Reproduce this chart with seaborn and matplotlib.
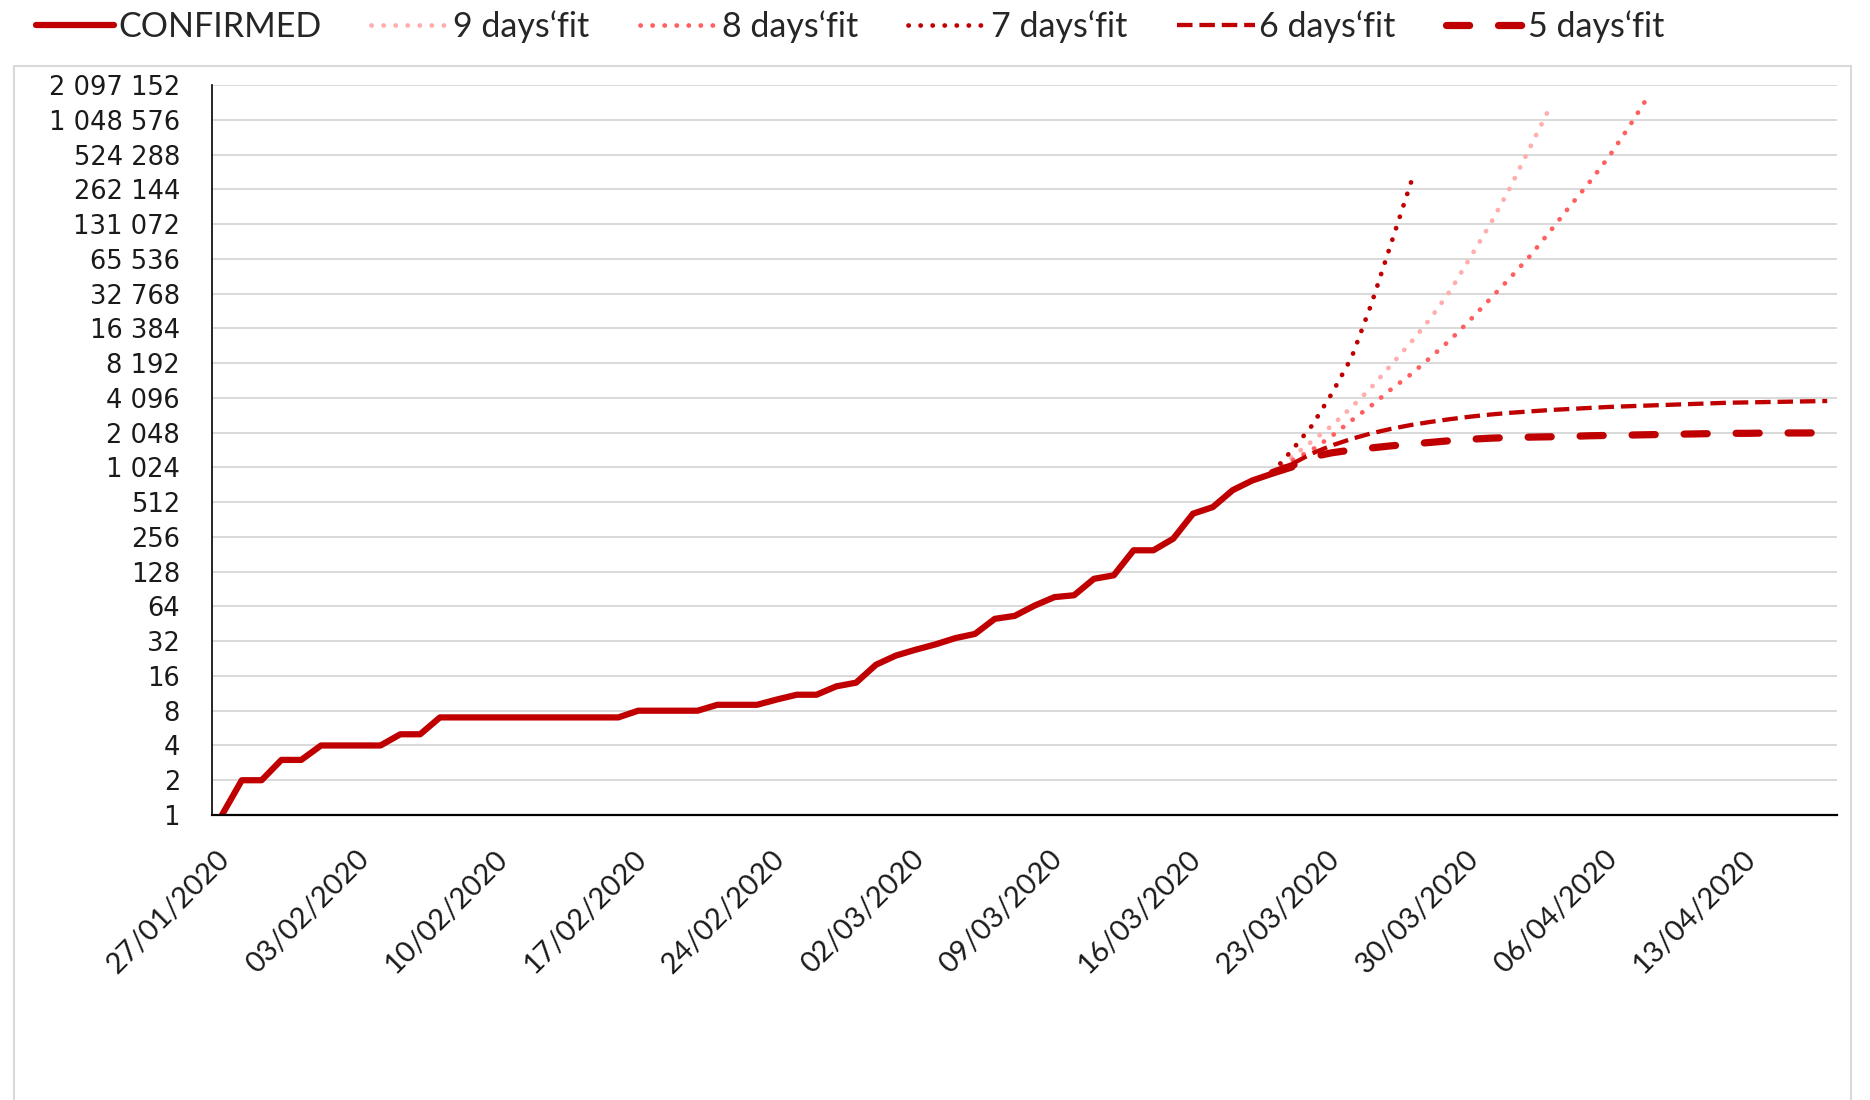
import pandas as pd
import matplotlib
matplotlib.use("Agg")
import matplotlib.pyplot as plt
import matplotlib.dates as mdates
import matplotlib.ticker as mticker
from matplotlib.patches import Rectangle
from matplotlib.transforms import ScaledTranslation
import seaborn as sns

sns.set_style("white")
plt.rcParams['font.family'] = ['DejaVu Sans']

# --- data ---
confirmed_start = "2020-01-27"
confirmed = [1, 2, 2, 3, 3, 4, 4, 4, 4, 5, 5, 7, 7, 7, 7, 7, 7, 7, 7, 7, 7,
             8, 8, 8, 8, 9, 9, 9, 10, 11, 11, 13, 14, 20, 24, 27, 30, 34, 37,
             50, 53, 65, 77, 80, 111, 119, 196, 196, 247, 407, 464, 650, 790,
             903, 1024]

fit_start = "2020-03-20"
fit_9 = [923, 1261, 1722, 2353, 3397, 5043, 7912, 12417, 20171, 35120, 67826,
         131072, 271000, 602000, 1335000]
fit_8 = [923, 1176, 1448, 1911, 2610, 3516, 4870, 6561, 9217, 13124, 19484,
         29536, 44766, 69237, 112500, 185364, 301000, 506000, 912000, 1705000]
fit_7 = [923, 1448, 2353, 4451, 9153, 26616, 89500, 301000]
fit_6 = [923, 1097, 1351, 1585, 1808, 2020, 2210, 2385, 2539, 2684, 2817, 2937,
         3040, 3126, 3214, 3281, 3350, 3420, 3468, 3516, 3566, 3616, 3666, 3717,
         3743, 3769, 3795, 3821, 3848]
fit_5 = [923, 1060, 1261, 1370, 1448, 1510, 1574, 1629, 1687, 1746, 1795, 1833,
         1859, 1872, 1885, 1898, 1924, 1938, 1951, 1965, 1978, 1992, 2006, 2020,
         2020, 2034, 2034, 2034, 2048]

week_labels = ["27/01/2020", "03/02/2020", "10/02/2020", "17/02/2020",
               "24/02/2020", "02/03/2020", "09/03/2020", "16/03/2020",
               "23/03/2020", "30/03/2020", "06/04/2020", "13/04/2020"]
axis_start, axis_end = "2020-01-27", "2020-04-17"
y_ticks = [2 ** k for k in range(22)]

narrow = ['Lato', 'DejaVu Sans']


def series_frame(start, values):
    return pd.DataFrame({"date": pd.date_range(start, periods=len(values), freq="D"),
                         "cases": values})


dots = (0, (0.05, 2.5))
series = [
    ("CONFIRMED", confirmed_start, confirmed,
     dict(color="#C00000", linewidth=4.5, linestyle="-", solid_joinstyle="round")),
    ("9 days\u2018fit", fit_start, fit_9,
     dict(color="#FFADAD", linewidth=3.4, linestyle=dots, dash_capstyle="round")),
    ("8 days\u2018fit", fit_start, fit_8,
     dict(color="#FF5F5F", linewidth=3.4, linestyle=dots, dash_capstyle="round")),
    ("7 days\u2018fit", fit_start, fit_7,
     dict(color="#C00000", linewidth=3.4, linestyle=dots, dash_capstyle="round")),
    ("6 days\u2018fit", fit_start, fit_6,
     dict(color="#C00000", linewidth=3.1, linestyle=(0, (3.6, 1.6)))),
    ("5 days\u2018fit", fit_start, fit_5,
     dict(color="#C00000", linewidth=5.2, linestyle=(0, (3.2, 4.0)), dash_capstyle="round")),
]

fig = plt.figure(figsize=(18.7, 11), dpi=100)
ax = fig.add_axes([0.1134, 0.2591, 0.8690, 0.6636])

for name, start, values, style in series:
    sns.lineplot(data=series_frame(start, values), x="date", y="cases",
                 estimator=None, label=name, ax=ax, **style)

if ax.get_legend() is not None:
    ax.get_legend().remove()

# log2 y axis with Excel-like labels
ax.set_yscale("log", base=2)
ax.set_ylim(1, 2 ** 21)
ax.set_yticks(y_ticks)
ax.yaxis.set_major_formatter(mticker.FuncFormatter(lambda v, p: f"{int(round(v)):,}".replace(",", " ")))
ax.yaxis.set_minor_locator(mticker.NullLocator())
ax.tick_params(axis="y", direction="out", length=7, width=1.2, color="black",
               pad=16, labelsize=18.5, labelcolor="#1a1a1a")

# date axis: tick marks on day boundaries, labels at the day itself
tick_dates = mdates.date2num(pd.to_datetime(week_labels, format="%d/%m/%Y"))
ax.set_xlim(mdates.date2num(pd.Timestamp(axis_start)) - 0.5,
            mdates.date2num(pd.Timestamp(axis_end)) + 0.5)
ax.set_xticks(tick_dates - 0.5)
ax.set_xticklabels([])
ax.set_xticks(tick_dates, minor=True)
ax.set_xticklabels(week_labels, minor=True, rotation=45, ha="right", va="center",
                   rotation_mode="anchor", family=narrow, fontsize=21, color="#1a1a1a")
ax.tick_params(axis="x", which="major", direction="out", length=7, width=1.2, color="black")
ax.tick_params(axis="x", which="minor", length=0, pad=29)
shift = ScaledTranslation(0.04, 0, fig.dpi_scale_trans)
for lab in ax.get_xticklabels(minor=True):
    lab.set_transform(lab.get_transform() + shift)

ax.set_xlabel("")
ax.set_ylabel("")
ax.yaxis.grid(True, color="#D9D9D9", linewidth=1.4)
ax.xaxis.grid(False)
ax.set_axisbelow(True)
sns.despine(ax=ax, top=True, right=True)
ax.spines["left"].set_color("black")
ax.spines["left"].set_linewidth(1.2)
ax.spines["bottom"].set_color("black")
ax.spines["bottom"].set_linewidth(1.6)

# chart area border like the spreadsheet frame
fig.patches.append(Rectangle((14 / 1870, -0.05), 1837 / 1870, 0.99, fill=False,
                             edgecolor="#D9D9D9", linewidth=1.5,
                             transform=fig.transFigure, figure=fig))

handles, labels = ax.get_legend_handles_labels()
fig.legend(handles, labels, loc="center left", bbox_to_anchor=(0.019, 0.976),
           ncol=6, frameon=False, prop=dict(family=narrow, size=24.5),
           handlelength=2.3, handletextpad=0.12, columnspacing=1.47,
           borderpad=0, borderaxespad=0)

fig.savefig("out.png", dpi=100)
